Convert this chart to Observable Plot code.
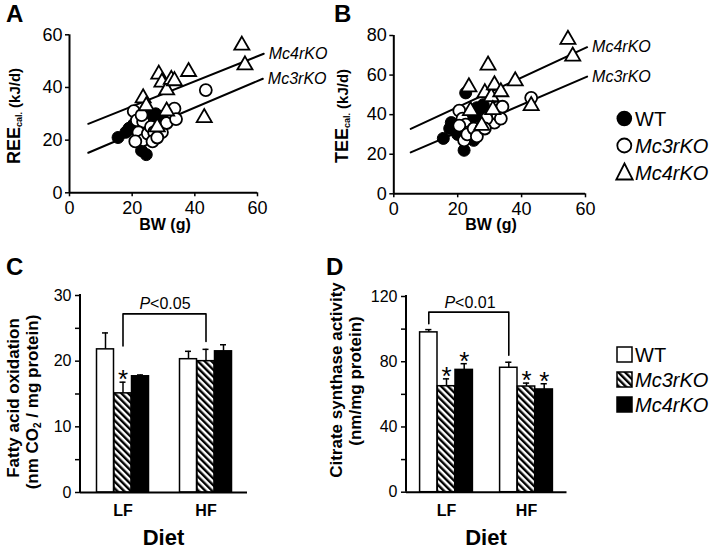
<!DOCTYPE html>
<html><head><meta charset="utf-8">
<script src="https://cdn.jsdelivr.net/npm/d3@7"></script>
<script src="https://cdn.jsdelivr.net/npm/@observablehq/plot@0.6"></script>
<style>
body{margin:0;background:#fff;}
#root{position:relative;width:717px;height:551px;overflow:hidden;background:#fff;}
#root svg{position:absolute;}
</style></head><body><div id="root"></div>
<script>
// ---------------- DATA ----------------
// Panel A: body weight (g) vs REE cal. (kJ/d)
const scatterA_WT  = [[15.5,21],[18,23],[19,24.5],[20.5,26],[22.5,28.5],[23,16],[24.5,14.5],[25,30],[26.5,26.5],[27.5,30],[28.5,27],[29,29],[24,25]];
const scatterA_Mc3 = [[20.5,31],[21.5,27.5],[23.5,27],[23,29.5],[22,23],[23.5,20],[21,19.5],[25,22.5],[26,25],[27,23],[29.5,23],[31,26.5],[32.5,30.5],[33.5,32],[34,28],[26.5,19.5],[28,21],[43.5,39]];
const scatterA_Mc4 = [[23.5,36],[24.5,33],[28.5,45],[29.5,42],[31,39],[32.5,43],[33.5,42.5],[38,46],[31,31],[28,25],[43,28.5],[55,56],[56,48.5]];
const fitA_Mc4 = [[6,26.2],[62,52.8]];
const fitA_Mc3 = [[6,15.2],[61.7,43.3]];
// Panel B: body weight (g) vs TEE cal. (kJ/d)
const scatterB_WT  = [[15.5,28],[17.5,33],[18,36],[22,22],[22.5,51],[26,43.5],[28,45],[26.5,40],[27.5,38],[25,27],[24.5,38.5],[29,40],[20,30]];
const scatterB_Mc3 = [[20.5,42],[21.5,38],[22.5,35],[20.5,34.5],[23.5,31],[22,27],[23,30],[25,33],[27.5,33],[26,29],[31.5,36],[32.5,40],[33.5,38],[32.5,43.5],[34,44],[29,38],[28.5,33],[43,48.5]];
const scatterB_Mc4 = [[23.5,54],[24,42],[27.5,34.5],[28.5,51],[29.5,65],[30.5,49],[31.5,55],[31,42.5],[33.5,51.5],[38,57],[43,44.5],[54.5,78],[56,69.5]];
const fitB_Mc4 = [[5.3,32.8],[60.5,74.1]];
const fitB_Mc3 = [[5.3,20.9],[60.5,59.2]];
const xTicksScatter = [0,20,40,60];
const yTicksA = [0,20,40,60];
const yTicksB = [0,20,40,60,80];

// Panels C/D
const diets = ["LF","HF"];
const genotypes = ["WT","Mc3rKO","Mc4rKO"];
// C: fatty acid oxidation (nm CO2 / mg protein)
const faoWT = [21.8,20.3],  faoWTerr = [2.5,1.2];
const faoMc3 = [15.1,20.0], faoMc3err = [1.7,1.8];
const faoMc4 = [17.7,21.5], faoMc4err = [0.2,1.0];
const sigC = [["LF","Mc3rKO"]];
const bracketC_diet = ["LF","LF","HF","HF"], bracketC_y = [22.3,27.2,27.2,23.0], bracketC_geno = "Mc3rKO";
const yTicksC = [0,5,10,15,20,25,30];
// D: citrate synthase activity (nm/mg protein)
const csWT = [98,76.3],  csWTerr = [1.7,3.4];
const csMc3 = [65,64.8], csMc3err = [4.5,2.1];
const csMc4 = [75,63],   csMc4err = [3.8,3.5];
const sigD = [["LF","Mc3rKO"],["LF","Mc4rKO"],["HF","Mc3rKO"],["HF","Mc4rKO"]];
const bracketD_diet = ["LF","LF","HF","HF"], bracketD_y = [103.3,110.4,110.4,84], bracketD_geno = "WT";
const yTicksD = [0,20,40,60,80,100,120];

// ---------------- DRAW ----------------
const FONT = '"Liberation Sans", Arial, Helvetica, sans-serif';
const NS = "http://www.w3.org/2000/svg";
const root = d3.select("#root");

// shared hatch pattern
const defs = root.append("svg").attr("width",0).attr("height",0).style("left","0px").style("top","0px").append("defs");
const pat = defs.append("pattern").attr("id","hatch").attr("patternUnits","userSpaceOnUse")
  .attr("width",4.8).attr("height",4.8).attr("patternTransform","rotate(-45)");
pat.append("rect").attr("width",4.8).attr("height",4.8).attr("fill","white");
pat.append("rect").attr("width",2.4).attr("height",4.8).attr("fill","black");

function place(svg, left, top) {
  svg.style.left = left + "px"; svg.style.top = top + "px";
  document.getElementById("root").appendChild(svg);
}
const P = pts => pts.map(([x,y]) => ({x,y}));

function scatter(o) {
  const end4 = P(o.fit4).at(-1), end3 = P(o.fit3).at(-1);
  return Plot.plot({
    width: o.width, height: o.height,
    marginTop: o.mt, marginRight: o.mr, marginBottom: o.mb, marginLeft: o.ml,
    style: {fontFamily: FONT, fontSize: "17px", color: "black", background: "transparent", overflow: "visible"},
    x: {domain: [0,60]},
    y: {domain: o.ydomain},
    marks: [
      Plot.axisX({ticks: xTicksScatter, tickSize: 4, tickPadding: 4, label: null, strokeWidth: 1.5, fontSize: 18}),
      Plot.axisY({ticks: o.yticks, tickSize: 4, tickPadding: 3, label: null, strokeWidth: 1.5, fontSize: 18}),
      Plot.ruleX([0], {strokeWidth: 2}),
      Plot.ruleY([0], {strokeWidth: 2}),
      Plot.line(P(o.fit4), {x: "x", y: "y", strokeWidth: 2}),
      Plot.line(P(o.fit3), {x: "x", y: "y", strokeWidth: 2}),
      Plot.dot(P(o.wt), {x: "x", y: "y", r: 6, fill: "black", stroke: "black", strokeWidth: 1}),
      Plot.dot(P(o.mc3), {x: "x", y: "y", r: 6, fill: "white", stroke: "black", strokeWidth: 1.8}),
      Plot.dot(P(o.mc4), {x: "x", y: "y", symbol: "triangle", r: 5.6, fill: "white", stroke: "black", strokeWidth: 1.8}),
      Plot.text([end4], {x: "x", y: "y", text: () => "Mc4rKO", textAnchor: "start", dx: 5, fontStyle: "italic", fontSize: 16}),
      Plot.text([end3], {x: "x", y: "y", text: () => "Mc3rKO", textAnchor: "start", dx: 5, fontStyle: "italic", fontSize: 16})
    ]
  });
}

function bars(o) {
  const rows = (m, e) => diets.map((d, i) => ({diet: d, mean: m[i], top: m[i] + e[i]}));
  const series = [
    {g: "WT", fill: "white", rows: rows(o.wt, o.wtErr)},
    {g: "Mc3rKO", fill: "url(#hatch)", rows: rows(o.mc3, o.mc3Err)},
    {g: "Mc4rKO", fill: "black", rows: rows(o.mc4, o.mc4Err)}
  ];
  const off = g => (genotypes.indexOf(g) - 1) * o.barW;
  const marks = [
    Plot.axisY({ticks: o.yticks, tickFormat: d => d % o.major === 0 ? String(d) : "", tickSize: 5, tickPadding: 4, label: null, strokeWidth: 1.5, fontSize: 16}),
    Plot.axisX({tickSize: 0, tickPadding: 12, label: null, fontWeight: "bold", fontSize: 16})
  ];
  for (const s of series) {
    marks.push(Plot.ruleX(s.rows, {x: "diet", y1: "mean", y2: "top", dx: off(s.g), strokeWidth: 1.5}));
    marks.push(Plot.tickY(s.rows, {x: "diet", y: "top", dx: off(s.g), insetLeft: o.capInset, insetRight: o.capInset, strokeWidth: 1.5}));
    marks.push(Plot.barY(s.rows, {x: "diet", y: "mean", fill: s.fill, stroke: "black", strokeWidth: 1.5, insetLeft: o.inset, insetRight: o.inset, dx: off(s.g)}));
  }
  // significance asterisks
  for (const [diet, g] of o.sig) {
    const r = series.find(s => s.g === g).rows.find(r => r.diet === diet);
    marks.push(Plot.text([r], {x: "diet", y: "top", text: () => "*", dx: off(g), dy: 6, lineAnchor: "bottom", fontSize: 26}));
  }
  // bracket
  const br = o.bracketDiet.map((d, i) => ({diet: d, y: o.bracketY[i]}));
  marks.push(Plot.line(br, {x: "diet", y: "y", dx: off(o.bracketGeno), strokeWidth: 1.6}));
  // axis lines
  marks.push(Plot.ruleY([0], {strokeWidth: 2}));
  marks.push((index, scales, values, dims) => {
    const l = document.createElementNS(NS, "line");
    l.setAttribute("x1", dims.marginLeft); l.setAttribute("x2", dims.marginLeft);
    l.setAttribute("y1", dims.marginTop - 1); l.setAttribute("y2", dims.height - dims.marginBottom);
    l.setAttribute("stroke", "black"); l.setAttribute("stroke-width", 2);
    return l;
  });
  return Plot.plot({
    width: o.width, height: o.height,
    marginTop: o.mt, marginRight: o.mr, marginBottom: o.mb, marginLeft: o.ml,
    style: {fontFamily: FONT, fontSize: "16px", color: "black", background: "transparent", overflow: "visible"},
    x: {type: "band", domain: diets, padding: 0},
    y: {domain: o.ydomain},
    marks
  });
}

place(scatter({width: 330, height: 240, mt: 34.3, mr: 73, mb: 47.7, ml: 69, ydomain: [0,60], yticks: yTicksA,
  wt: scatterA_WT, mc3: scatterA_Mc3, mc4: scatterA_Mc4, fit4: fitA_Mc4, fit3: fitA_Mc3}), 0, 0);
place(scatter({width: 387, height: 240, mt: 35, mr: 132, mb: 46.7, ml: 63.3, ydomain: [0,80], yticks: yTicksB,
  wt: scatterB_WT, mc3: scatterB_Mc3, mc4: scatterB_Mc4, fit4: fitB_Mc4, fit3: fitB_Mc3}), 330, 0);
place(bars({width: 320, height: 291, mt: 35, mr: 73, mb: 59, ml: 80, ydomain: [0,30], yticks: yTicksC, major: 10,
  wt: faoWT, wtErr: faoWTerr, mc3: faoMc3, mc3Err: faoMc3err, mc4: faoMc4, mc4Err: faoMc4err,
  barW: 17.5, inset: 33, capInset: 38.5, sig: sigC, bracketDiet: bracketC_diet, bracketY: bracketC_y, bracketGeno: bracketC_geno}), 0, 260);
place(bars({width: 397, height: 291, mt: 36, mr: 150.5, mb: 59.3, ml: 86, ydomain: [0,120], yticks: yTicksD, major: 40,
  wt: csWT, wtErr: csWTerr, mc3: csMc3, mc3Err: csMc3err, mc4: csMc4, mc4Err: csMc4err,
  barW: 17.7, inset: 31.3, capInset: 36.9, sig: sigD, bracketDiet: bracketD_diet, bracketY: bracketD_y, bracketGeno: bracketD_geno}), 320, 260);

// ---------------- OVERLAY TEXT ----------------
const ov = root.append("svg").attr("width",717).attr("height",551).style("left","0px").style("top","0px")
  .style("pointer-events","none").attr("font-family", FONT);
function txt(x, y, s, {size = 16, weight = "normal", style = "normal", anchor = "start"} = {}) {
  return ov.append("text").attr("x", x).attr("y", y).attr("font-size", size).attr("font-weight", weight)
    .attr("font-style", style).attr("text-anchor", anchor).text(s);
}
// panel letters
txt(6, 22, "A", {size: 24, weight: "bold"});
txt(334, 22, "B", {size: 24, weight: "bold"});
txt(6, 275, "C", {size: 24, weight: "bold"});
txt(326, 275, "D", {size: 24, weight: "bold"});
// scatter axis labels
txt(165, 230, "BW (g)", {size: 16, weight: "bold", anchor: "middle"});
txt(491, 230, "BW (g)", {size: 16, weight: "bold", anchor: "middle"});
function eeLabel(x, y, main) {
  const t = ov.append("text").attr("transform", `translate(${x},${y}) rotate(-90)`).attr("text-anchor", "middle").attr("font-weight", "bold");
  t.append("tspan").attr("font-size", 18).text(main);
  t.append("tspan").attr("font-size", 9).attr("dy", 2).text("cal.");
  t.append("tspan").attr("font-size", 15).attr("dy", -2).text(" (kJ/d)");
}
eeLabel(20, 116, "REE");
eeLabel(348, 116, "TEE");
// bar chart labels
txt(163.5, 545, "Diet", {size: 22, weight: "bold", anchor: "middle"});
txt(486, 545, "Diet", {size: 22, weight: "bold", anchor: "middle"});
function rot(x, y, build) {
  const t = ov.append("text").attr("transform", `translate(${x},${y}) rotate(-90)`).attr("text-anchor", "middle")
    .attr("font-weight", "bold").attr("font-size", 17);
  build(t);
}
rot(19, 398, t => t.text("Fatty acid oxidation"));
rot(37.5, 402, t => {
  t.append("tspan").text("(nm CO");
  t.append("tspan").attr("font-size", 10).attr("dy", 3).text("2");
  t.append("tspan").attr("dy", -3).text(" / mg protein)");
});
rot(342, 380, t => t.text("Citrate synthase activity"));
rot(360.5, 381, t => t.text("(nm/mg protein)"));
// P values
function pval(x, y, rest) {
  const t = ov.append("text").attr("x", x).attr("y", y).attr("text-anchor", "middle").attr("font-size", 16);
  t.append("tspan").attr("font-style", "italic").text("P");
  t.append("tspan").text(rest);
}
pval(165, 309, "<0.05");
pval(470, 308, "<0.01");
// legend A/B
ov.append("circle").attr("cx", 624.3).attr("cy", 118.5).attr("r", 7.8).attr("fill", "black");
ov.append("circle").attr("cx", 624.3).attr("cy", 145.5).attr("r", 7).attr("fill", "white").attr("stroke", "black").attr("stroke-width", 1.8);
ov.append("path").attr("d", "M624.5,163.5L616.3,179.5L632.7,179.5Z").attr("fill", "white").attr("stroke", "black").attr("stroke-width", 1.8);
txt(635, 125.5, "WT", {size: 20});
txt(635, 152.5, "Mc3rKO", {size: 20, style: "italic"});
txt(635, 180, "Mc4rKO", {size: 20, style: "italic"});
// legend D
[["white", 347], ["url(#hatch)", 372], ["black", 397]].forEach(([f, y]) => {
  ov.append("rect").attr("x", 617).attr("y", y).attr("width", 15).attr("height", 15).attr("fill", f).attr("stroke", "black").attr("stroke-width", 1.5);
});
txt(635, 362, "WT", {size: 20});
txt(635, 387, "Mc3rKO", {size: 20, style: "italic"});
txt(635, 412, "Mc4rKO", {size: 20, style: "italic"});
</script>
</body></html>
